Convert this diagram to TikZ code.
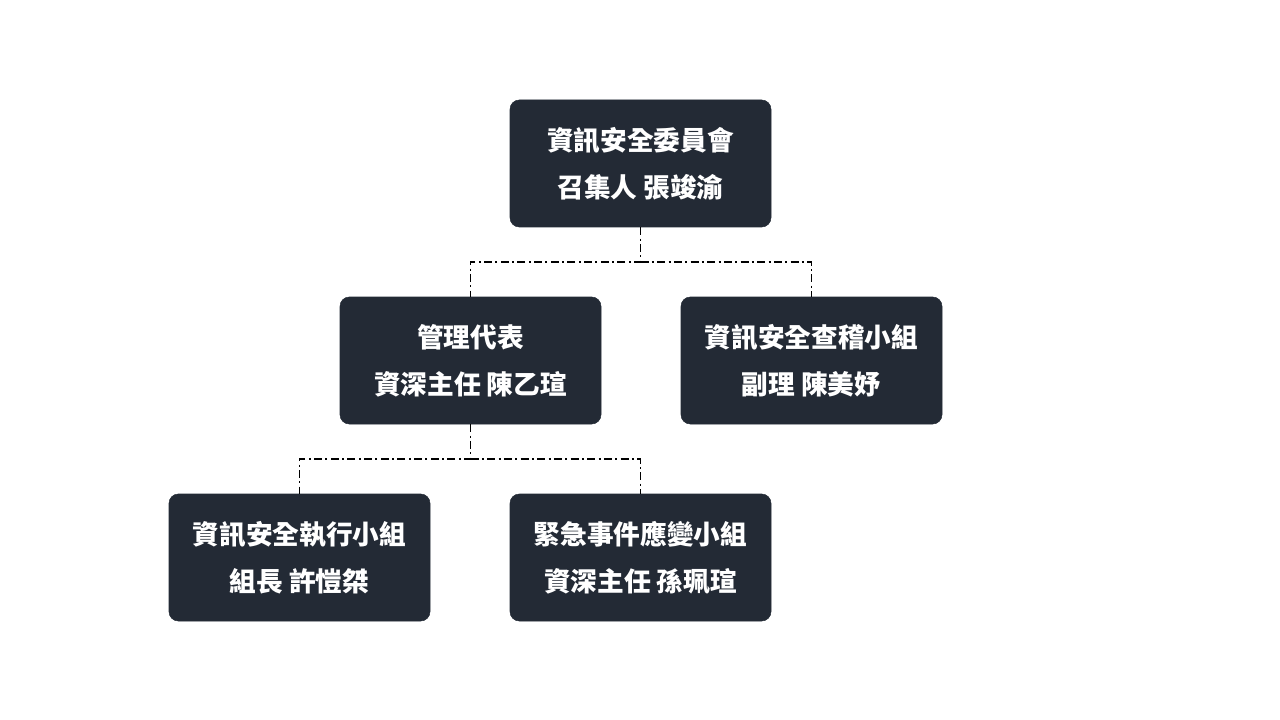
\documentclass[tikz,border=0pt]{standalone}
\usepackage{fontspec}
\newfontfamily\cjk{Noto Sans CJK TC}
\definecolor{boxfill}{HTML}{232A35}
\begin{document}
\begin{tikzpicture}[x=0.75pt,y=-0.75pt,
  unit/.style={fill=boxfill,draw=boxfill,rounded corners=7pt,minimum width=195.75pt,minimum height=95.25pt,
    text=white,align=center,font=\cjk\bfseries\fontsize{20pt}{35pt}\selectfont},
  link/.style={black,line width=1pt,dash pattern=on 6pt off 2.5pt on 1.5pt off 2.5pt}]
\useasboundingbox (0,0) rectangle (1280,720);
% boxes
\node[unit] (board) at (640.5,163.5) {資訊安全委員會\\召集人 張竣渝};
\node[unit] (mgr) at (470.5,360.5) {管理代表\\資深主任 陳乙瑄};
\node[unit] (audit) at (811.5,360.5) {資訊安全查稽小組\\副理 陳美妤};
\node[unit] (exec) at (299.5,557.5) {資訊安全執行小組\\組長 許愷桀};
\node[unit] (emerg) at (640.5,557.5) {緊急事件應變小組\\資深主任 孫珮瑄};
% connectors
\coordinate (j1) at (640.5,262);
\coordinate (j2) at (470.5,459);
\draw[link] (board.south) -- (j1) -| (mgr.north);
\draw[link] (j1) -| (audit.north);
\draw[link] (mgr.south) -- (j2) -| (exec.north);
\draw[link] (j2) -| (emerg.north);
\end{tikzpicture}
\end{document}
